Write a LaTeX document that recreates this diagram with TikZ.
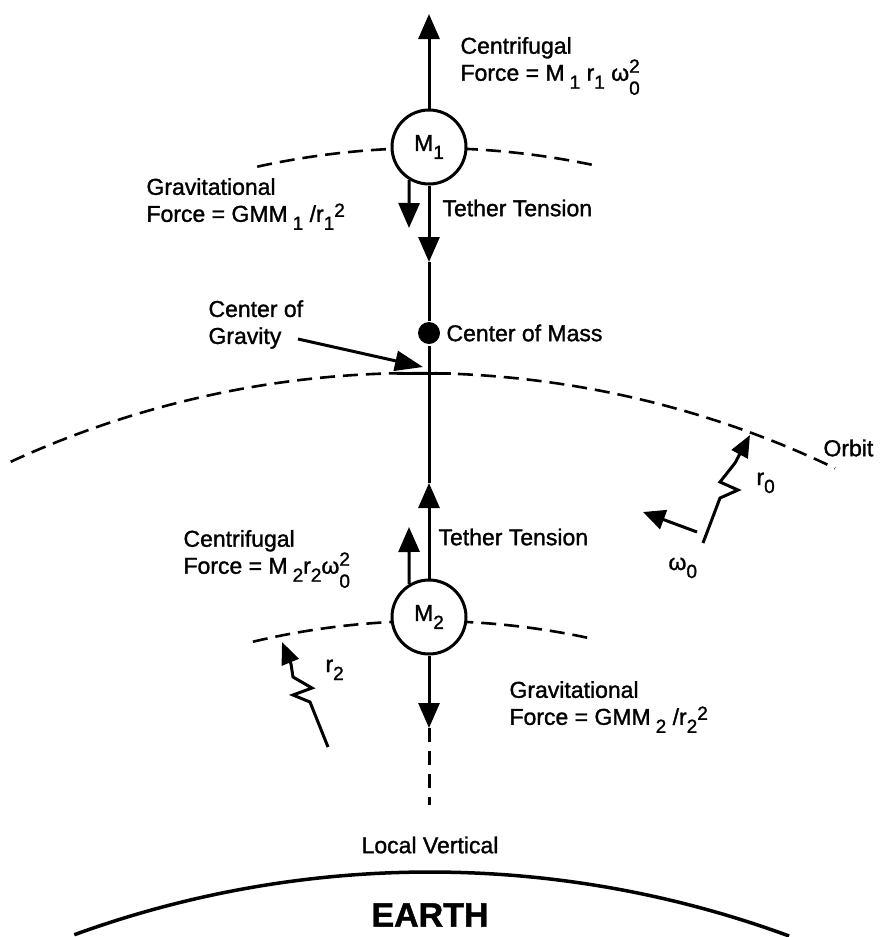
\documentclass[tikz,border=0pt]{standalone}
\usepackage{fontspec}
\setmainfont{Liberation Sans}[FakeBold=1.3]
\usetikzlibrary{arrows.meta}

\newcommand{\lowdig}[1]{\raisebox{-8pt}{\fontsize{19}{19}\selectfont #1}}
\newcommand{\highdig}[1]{\raisebox{5pt}{\fontsize{19}{19}\selectfont #1}}
\newcommand{\omsq}{ω\raisebox{-14pt}{\fontsize{19}{22}\selectfont\vbox{\baselineskip=22pt\hbox{2}\hbox{0}}}}

\begin{document}
\begin{tikzpicture}[
  x=1pt, y=-1pt,
  font=\fontsize{23}{27}\selectfont,
  >={Triangle[length=25pt,width=21pt]},
  line width=3pt,
  mass/.style={draw, circle, line width=3pt, minimum size=74pt, inner sep=0pt, fill=white},
  lbl/.style={inner sep=0pt, align=left, anchor=west},
  track/.style={line width=2.6pt, dash pattern=on 15pt off 8pt},
  zig/.style={line width=3pt, line join=miter, ->, >={Triangle[length=22pt,width=18pt]}}
]
  \useasboundingbox (0,0) rectangle (879,937);

  % orbits and earth surface
  \draw[track] (429,948) ++(257.6:800) arc[start angle=257.6, end angle=282, radius=800];
  \draw[track] (416,1343) ++(245.3:970) arc[start angle=245.3, end angle=295.6, radius=970];
  \draw[track] (429,1381) ++(256.6:760) arc[start angle=256.6, end angle=282.3, radius=760];
  \draw[line width=3.5pt] (430,1912) ++(250:1040) arc[start angle=250, end angle=290.2, radius=1040];

  % points on the local vertical
  \coordinate (top) at (429,14);
  \coordinate (t1) at (429,262);
  \coordinate (cog) at (429,373);
  \coordinate (t2) at (429,483);
  \coordinate (g2) at (429,728);
  \coordinate (lv) at (429,805);
  \node[circle, fill, minimum size=22pt, inner sep=0pt] (com) at (429,333) {};

  % the two masses
  \node[mass] (m1) at (429,147) {M\lowdig{1}};
  \node[mass] (m2) at (429,617) {M\lowdig{2}};

  % tether and forces
  \draw[->] (m1) -- (top);
  \draw[->] (m1) -- (t1);
  \draw (t1) -- (com);
  \draw[->] (m2) -- (t2);
  \draw (t2) -- (com);
  \draw[->] (m2) -- (g2);
  \draw[line width=3pt, dash pattern=on 14pt off 9pt] (g2) -- (lv);

  \coordinate (g1) at (409,228);
  \coordinate (c2) at (409,527);
  \draw[->] (m1.239) -- (g1);
  \draw[->] (m2.121) -- (c2);

  % center of gravity
  \coordinate (cogL) at (397,373);
  \coordinate (cogR) at (451,373);
  \draw (cogL) -- (cogR);
  \coordinate (cgtail) at (298,339);
  \coordinate (cgtip) at (423,367);
  \draw[->, >={Triangle[length=28pt,width=20pt]}] (cgtail) -- (cgtip);

  % radius and rate markers
  \coordinate (r0foot) at (703,543);
  \coordinate (r0tip) at (750,435);
  \draw[zig] (r0foot) -- ++(17,-45) -- ++(18,-8) -- ++(-18,-8) -- ++(15,-19) -- (r0tip);
  \coordinate (r2foot) at (328,747);
  \coordinate (r2tip) at (282,642);
  \draw[zig] (r2foot) -- ++(-18,-45) -- ++(-17,-7) -- ++(19,-7) -- ++(-19,-11) -- ++(-2,-13) -- (r2tip);
  \coordinate (w0tail) at (697,532);
  \coordinate (w0tip) at (643,512);
  \draw[->, >={Triangle[length=22pt,width=20pt]}] (w0tail) -- (w0tip);

  % labels
  \node[lbl] (cf1) at (459,66) {Centrifugal\\Force = M\hspace{5pt}\lowdig{1} r\lowdig{1} \omsq};
  \node[lbl] (gf1) at (145,204) {Gravitational\\Force = GMM\hspace{5pt}\lowdig{1} /r\lowdig{1}\highdig{2}};
  \node[lbl] (tt1) at (441,208) {Tether Tension};
  \node[lbl] (cgtxt) at (207,324.5) {Center of\\Gravity};
  \node[lbl] (comtxt) at (445,333) {Center of Mass};
  \node[lbl] (orbit) at (822,448) {Orbit};
  \node[lbl] (cf2) at (182,559) {Centrifugal\\Force = M\hspace{5pt}\lowdig{2}r\lowdig{2}\omsq};
  \node[lbl] (tt2) at (437,537) {Tether Tension};
  \node[lbl] (gf2) at (508,707) {Gravitational\\Force = GMM\hspace{5pt}\lowdig{2} /r\lowdig{2}\highdig{2}};
  \node[lbl, anchor=base west] (r0) at (755,485) {r\lowdig{0}};
  \node[lbl, anchor=base west] (r2) at (324,672) {r\lowdig{2}};
  \node[lbl, anchor=base west] (w0) at (667,570) {ω\lowdig{0}};
  \node (lvtxt) at (430,845) {Local Vertical};
  \node[font=\fontsize{34}{40}\selectfont\bfseries] (earth) at (430,915) {EARTH};
\end{tikzpicture}
\end{document}
